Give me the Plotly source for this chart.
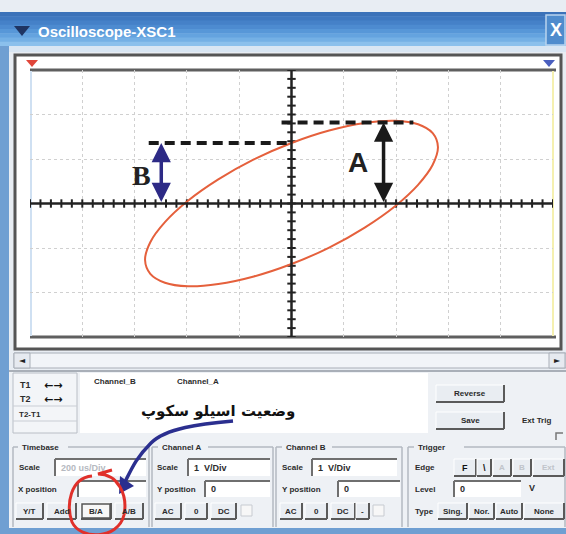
import numpy as np
import plotly.graph_objects as go

# ---------------- data ----------------
# Lissajous trace (Channel A on X, Channel B on Y), volts (1 V/Div)
ellipse_x = [0, 0.72, 1.40, 1.98, 2.42, 2.70, 2.80, 2.70, 2.42, 1.98, 1.40, 0.72, 0,
             -0.72, -1.40, -1.98, -2.42, -2.70, -2.80, -2.70, -2.42, -1.98, -1.40, -0.72, 0]
ellipse_y = [1.36, 1.64, 1.81, 1.86, 1.78, 1.58, 1.27, 0.87, 0.42, -0.06, -0.54, -0.99, -1.36,
             -1.64, -1.81, -1.86, -1.78, -1.58, -1.27, -0.87, -0.42, 0.06, 0.54, 0.99, 1.36]
A_value = 1.82          # peak height (A)
B_value = 1.36          # height where trace crosses the Y axis (B)
A_line_x = [-0.19, 2.33]
B_line_x = [-2.73, 0.0]
A_arrow_x = 1.76
B_arrow_x = -2.49
x_range = [-5, 5]
y_range = [-3, 3]

title_text = "Oscilloscope-XSC1"
persian_label = "وضعیت اسیلو سکوپ"

# ---------------- geometry helpers (pixel -> paper) ----------------
W, H = 566, 534
PL, PR, PT, PB = 30, 553, 70, 337


def fx(px):
    return (px - PL) / (PR - PL)


def fy(py):
    return (PB - py) / (PB - PT)


shapes = []
annots = []
NONE = "rgba(0,0,0,0)"


def rect(l, t, r, b, fill=None, line=None, lw=1, layer="below"):
    shapes.append(dict(type="rect", xref="paper", yref="paper",
                       x0=fx(l), x1=fx(r), y0=fy(b), y1=fy(t),
                       fillcolor=fill or NONE,
                       line=dict(color=line or NONE, width=lw if line else 0),
                       layer=layer))


def hline(x0, x1, y, color, lw=1, dash="solid", layer="below"):
    shapes.append(dict(type="line", xref="paper", yref="paper",
                       x0=fx(x0), x1=fx(x1), y0=fy(y), y1=fy(y),
                       line=dict(color=color, width=lw, dash=dash), layer=layer))


def vline(x, y0, y1, color, lw=1, layer="below"):
    shapes.append(dict(type="line", xref="paper", yref="paper",
                       x0=fx(x), x1=fx(x), y0=fy(y0), y1=fy(y1),
                       line=dict(color=color, width=lw), layer=layer))


def path(points_str, color, lw=0, fill=None, layer="above"):
    shapes.append(dict(type="path", xref="paper", yref="paper", path=points_str,
                       fillcolor=fill or NONE,
                       line=dict(color=color if lw else NONE, width=lw), layer=layer))


def P(x, y):
    return f"{fx(x):.5f},{fy(y):.5f}"


def text(x, y, s, size=9, color="#2b2b2b", bold=True, anchor="left", family="Liberation Sans"):
    annots.append(dict(xref="paper", yref="paper", x=fx(x), y=fy(y),
                       text=(f"<b>{s}</b>" if bold else s), showarrow=False,
                       xanchor=anchor, yanchor="middle",
                       font=dict(size=size, color=color, family=family)))


def button(l, t, r, b, label, size=9, color="#2b2b2b", pressed=False):
    rect(l, t, r, b, fill="#e9edf2" if not pressed else "#f7f7f7")
    hline(l, r, t, "#ffffff", 1)
    vline(l, t, b, "#ffffff", 1)
    hline(l, r, b, "#5a5a5a", 2)
    vline(r, t, b, "#5a5a5a", 2)
    if pressed:
        rect(l + 1, t + 1, r - 1, b - 1, line="#555", lw=1.5)
    text((l + r) / 2, (t + b) / 2, label, size=size, color=color, anchor="center")


def field(l, t, r, b, label="", color="#2b2b2b"):
    rect(l, t, r, b, fill="#ffffff")
    hline(l, r, t, "#6f6f6f", 2)
    vline(l, t, b, "#6f6f6f", 2)
    if label:
        text(l + 4, (t + b) / 2, label, color=color)


# ---------------- window chrome ----------------
# top white strip with dotted line
rect(0, 0, W, 12, fill="#ffffff")
hline(0, W, 5, "#9a9a9a", 2, dash="dot")

# title bar gradient
bands = ["#3b72b9", "#3f78c0", "#4581c8", "#4d8bd0", "#5797d8", "#64a3df", "#74b0e5", "#8bc0ec"]
top, bot = 12, 46
step = (bot - top) / len(bands)
for i, c in enumerate(bands):
    rect(0, top + i * step, W, top + (i + 1) * step + 0.6, fill=c)
rect(0, 46, W, 52, fill="#d9e6f3")
# left / bottom window borders
rect(0, 46, 9, H, fill="#6f9fd2")
rect(0, 528, W, H, fill="#6f9fd2")
rect(9, 52, W, 528, fill="#e8edf3")

# title icon and text
path("M" + P(14, 26) + "L" + P(30, 26) + "L" + P(22, 36) + "Z", "#1a2d5a", 0, fill="#1f3563")
text(36, 31, title_text, size=15, color="#ffffff", bold=True, family="Liberation Sans")
# close button
rect(546, 15, 565, 45, fill="#4f8ccd", line="#b9d3ee", lw=1.5)
text(555.5, 30, "X", size=18, color="#ffffff", anchor="center")

# scope frame
rect(15, 55, 561, 349, fill="#ffffff", line="#555555", lw=3)
hline(30, 556, 70, "#5f5f5f", 3)
hline(30, 556, 337, "#5f5f5f", 3)
vline(31, 71, 336, "#cfe0f2", 2)
vline(553, 71, 336, "#f5f0b0", 2)
# cursor markers
path("M" + P(26, 60) + "L" + P(38, 60) + "L" + P(32, 67) + "Z", "#d23a2a", 0, fill="#e0463a")
path("M" + P(543, 60) + "L" + P(555, 60) + "L" + P(549, 67) + "Z", "#3b4fa8", 0, fill="#4a5fbf")

# scrollbar
rect(14, 353, 566, 368, fill="#f1f4f8", line="#a9afb8", lw=1)
rect(14, 353, 30, 368, fill="#e6eaf0", line="#a9afb8", lw=1)
rect(549, 353, 565, 368, fill="#e6eaf0", line="#a9afb8", lw=1)
text(22, 360.5, "◄", size=8, color="#222", anchor="center", family="DejaVu Sans")
text(557, 360.5, "►", size=8, color="#222", anchor="center", family="DejaVu Sans")
hline(9, W, 371, "#a9afb8", 2)

# lower panel
rect(9, 372, W, 528, fill="#eef1f5")
# cursor box
rect(13, 373, 77, 433, fill="#f3f5f8", line="#b9bec6", lw=1)
hline(13, 77, 406, "#c9cdd4", 1)
hline(13, 77, 421, "#c9cdd4", 1)
text(18, 385, "T1", size=9)
text(42, 385, "←→", size=11, color="#111", family="DejaVu Sans")
text(18, 399, "T2", size=9)
text(42, 399, "←→", size=11, color="#111", family="DejaVu Sans")
text(17, 414, "T2-T1", size=8)
# readout area
rect(80, 373, 428, 433, fill="#ffffff")
text(92, 381, "Channel_B", size=8)
text(175, 381, "Channel_A", size=8)
text(218, 411, persian_label, size=15, color="#111", anchor="center", family="DejaVu Sans")

# Reverse / Save / Ext Trig
button(436, 385, 504, 402, "Reverse", size=8)
button(436, 412, 504, 429, "Save", size=8)
text(520, 420, "Ext Trig", size=8)
path("M" + P(556, 440) + "L" + P(556, 433) + "L" + P(563, 433), "#777", 1.5)

# group frames
for (l, r, lab, lx) in [(13, 149, "Timebase", 20), (152, 273, "Channel A", 160),
                        (276, 402, "Channel B", 284), (408, 565, "Trigger", 416)]:
    hline(l, r, 447, "#b3b8c0", 1.5)
    vline(l, 447, 527, "#b3b8c0", 1.5)
    vline(r, 447, 527, "#b3b8c0", 1.5)
    rect(lx - 2, 441, lx + 48, 453, fill="#eef1f5")
    text(lx, 447, lab, size=8)

# Timebase
text(17, 467, "Scale", size=8)
field(55, 459, 146, 476, "200 us/Div", color="#b5b9c0")
text(16, 489, "X position", size=8)
field(78, 481, 146, 497)
button(16, 503, 43, 519, "Y/T", size=8)
button(47, 503, 76, 519, "Add", size=8)
button(81, 503, 111, 519, "B/A", size=8, pressed=True)
button(115, 503, 143, 519, "A/B", size=8)

# Channel A
text(155, 467, "Scale", size=8)
field(188, 459, 270, 476, "1  V/Div")
text(155, 489, "Y position", size=8)
field(205, 481, 270, 497, "0")
button(155, 503, 181, 519, "AC", size=8)
button(185, 503, 207, 519, "0", size=8)
button(211, 503, 236, 519, "DC", size=8)
rect(241, 505, 252, 516, fill="#f7f7f7", line="#c7cbd1", lw=1)

# Channel B
text(280, 467, "Scale", size=8)
field(312, 459, 397, 476, "1  V/Div")
text(280, 489, "Y position", size=8)
field(338, 481, 400, 497, "0")
button(280, 503, 302, 519, "AC", size=8)
button(305, 503, 327, 519, "0", size=8)
button(331, 503, 355, 519, "DC", size=8)
button(356, 503, 369, 519, "-", size=8)
rect(373, 505, 384, 516, fill="#f7f7f7", line="#c7cbd1", lw=1)

# Trigger
text(413, 467, "Edge", size=8)
button(454, 459, 476, 476, "F", size=9, color="#111")
button(477, 459, 491, 476, "\\", size=9, color="#111")
button(493, 459, 511, 476, "A", size=8, color="#c0c4ca")
button(513, 459, 531, 476, "B", size=8, color="#c0c4ca")
button(533, 459, 564, 476, "Ext", size=8, color="#c0c4ca")
text(413, 489, "Level", size=8)
field(454, 481, 521, 497, "0")
text(527, 488, "V", size=9)
text(413, 511, "Type", size=8)
button(438, 503, 467, 519, "Sing.", size=8)
button(469, 503, 494, 519, "Nor.", size=8)
button(496, 503, 522, 519, "Auto", size=8)
button(524, 503, 564, 519, "None", size=8)

# blue pointer arrow
path("M" + P(233, 421) + " C" + P(200, 424) + " " + P(166, 428) + " " + P(151, 443)
     + " S" + P(132, 468) + " " + P(125, 482), "#2b2f8f", 3.5)
path("M" + P(119, 494) + "L" + P(134, 486) + "L" + P(120, 476) + "Z", "#2b2f8f", 0, fill="#2b2f8f")
# red hand-drawn circle
path("M" + P(92, 476) + " C" + P(70, 478) + " " + P(66, 505) + " " + P(72, 522)
     + " C" + P(80, 540) + " " + P(118, 540) + " " + P(124, 515)
     + " C" + P(128, 495) + " " + P(118, 474) + " " + P(98, 474)
     + " L" + P(112, 470), "#e0302a", 3)

# ---------------- figure ----------------
fig = go.Figure()

# center axes with tick beads
fig.add_shape(type="line", x0=x_range[0], x1=x_range[1], y0=0, y1=0, line=dict(color="#222", width=2), layer="above")
fig.add_shape(type="line", x0=0, x1=0, y0=y_range[0], y1=y_range[1], line=dict(color="#222", width=2), layer="above")
tx = np.round(np.arange(x_range[0], x_range[1] + 0.01, 0.2), 2)
ty = np.round(np.arange(y_range[0], y_range[1] + 0.01, 0.2), 2)
fig.add_trace(go.Scatter(x=tx, y=np.zeros_like(tx), mode="markers", hoverinfo="skip",
                         marker=dict(symbol="line-ns-open", size=6, color="#222",
                                     line=dict(color="#222", width=2))))
fig.add_trace(go.Scatter(x=np.zeros_like(ty), y=ty, mode="markers", hoverinfo="skip",
                         marker=dict(symbol="line-ew-open", size=6, color="#222",
                                     line=dict(color="#222", width=2))))

# trace
fig.add_trace(go.Scatter(x=ellipse_x, y=ellipse_y, mode="lines",
                         line=dict(color="#e5603c", width=2, shape="spline", smoothing=1.0)))

# dashed reference lines
fig.add_trace(go.Scatter(x=B_line_x, y=[B_value, B_value], mode="lines",
                         line=dict(color="#1a1a1a", width=4, dash="10px,6px")))
fig.add_trace(go.Scatter(x=A_line_x, y=[A_value, A_value], mode="lines",
                         line=dict(color="#1a1a1a", width=4, dash="10px,6px")))

# double-headed arrows
annots.append(dict(x=B_arrow_x, y=B_value, ax=B_arrow_x, ay=0, xref="x", yref="y", axref="x", ayref="y",
                   showarrow=True, arrowside="end+start", arrowhead=2, startarrowhead=2,
                   arrowsize=1.1, startarrowsize=1.1, arrowwidth=3.5, arrowcolor="#2d2a86",
                   standoff=0, startstandoff=0, text=""))
annots.append(dict(x=A_arrow_x, y=A_value, ax=A_arrow_x, ay=0, xref="x", yref="y", axref="x", ayref="y",
                   showarrow=True, arrowside="end+start", arrowhead=2, startarrowhead=2,
                   arrowsize=1.1, startarrowsize=1.1, arrowwidth=3.5, arrowcolor="#1a1a1a",
                   standoff=0, startstandoff=0, text=""))
annots.append(dict(x=-2.87, y=0.64, xref="x", yref="y", text="<b>B</b>", showarrow=False,
                   font=dict(size=28, color="#222", family="Liberation Serif")))
annots.append(dict(x=1.28, y=0.93, xref="x", yref="y", text="<b>A</b>", showarrow=False,
                   font=dict(size=28, color="#222", family="Liberation Sans")))

fig.update_layout(
    width=W, height=H,
    margin=dict(l=PL, r=W - PR, t=PT, b=H - PB),
    paper_bgcolor="#e8edf3", plot_bgcolor="#ffffff",
    showlegend=False,
    shapes=shapes + list(fig.layout.shapes),
    annotations=annots,
    xaxis=dict(range=x_range, dtick=1, showgrid=True, gridcolor="#d0d0d0", griddash="dot",
               gridwidth=1, zeroline=False, showticklabels=False, showline=False, fixedrange=True),
    yaxis=dict(range=y_range, dtick=1, showgrid=True, gridcolor="#d0d0d0", griddash="dot",
               gridwidth=1, zeroline=False, showticklabels=False, showline=False, fixedrange=True),
)

fig.write_html("out.html", config={"displayModeBar": False},
               post_script="document.body.style.margin='0';document.body.style.overflow='hidden';")
